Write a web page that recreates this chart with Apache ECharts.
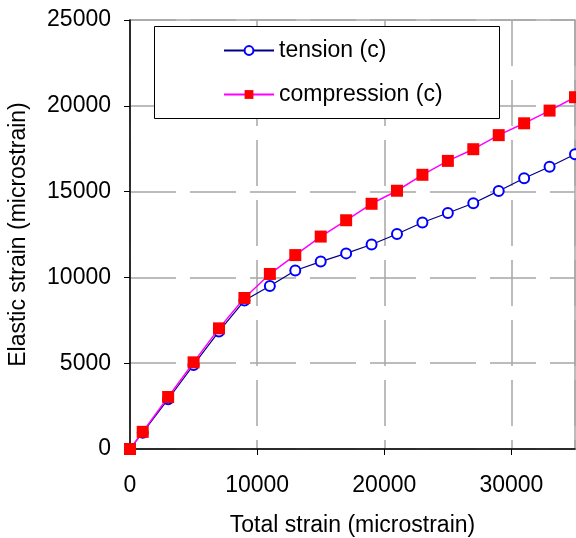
<!DOCTYPE html>
<html>
<head>
<meta charset="utf-8">
<script src="https://cdn.jsdelivr.net/npm/echarts@6/dist/echarts.min.js"></script>
<style>
  html, body { margin: 0; padding: 0; background: #fff; }
  #chart { width: 576px; height: 538px; }
</style>
</head>
<body>
<div id="chart"></div>
<script>
  // total strain (x) and elastic strain (y), microstrain
  const totalStrain = [0, 1000, 3000, 5000, 7000, 9000, 11000, 13000, 15000, 17000,
    19000, 21000, 23000, 25000, 27000, 29000, 31000, 33000, 35000]
  const tension = [0, 950, 2900, 4900, 6850, 8650, 9500, 10400, 10920, 11400,
    11920, 12530, 13200, 13750, 14320, 15040, 15780, 16450, 17180]
  const compression = [0, 1000, 3030, 5050, 7030, 8800, 10200, 11300, 12380, 13330,
    14290, 15050, 15980, 16790, 17470, 18290, 18980, 19720, 20500]

  const seriesNames = ['tension (c)', 'compression (c)']

  const font = 'Liberation Sans, Arial, sans-serif'
  const fontSize = 23
  const gridDash = [46, 14]

  const chart = echarts.init(document.getElementById('chart'))

  const option = {
    animation: false,
    backgroundColor: '#fff',
    textStyle: { fontFamily: font, color: '#000' },
    grid: {
      left: 130, top: 20, right: 1, bottom: 89,
      outerBoundsMode: 'none',
      containLabel: false,
      show: true, borderColor: '#a6a6a6', borderWidth: 1.5
    },
    // legend box
    graphic: [{
      type: 'rect',
      left: 154, top: 26,
      shape: { width: 345, height: 92 },
      style: { fill: '#fff', stroke: '#000', lineWidth: 1 },
      z: 10
    }],
    legend: {
      data: seriesNames,
      orient: 'vertical',
      left: 223, top: 39,
      padding: 0,
      itemWidth: 50, itemHeight: 11,
      itemGap: 21,
      z: 20,
      textStyle: { fontSize: fontSize, fontFamily: font, color: '#000' }
    },
    xAxis: {
      type: 'value',
      min: 0, max: 35000, interval: 10000,
      name: 'Total strain (microstrain)',
      nameLocation: 'middle',
      nameGap: 65,
      nameTextStyle: { fontSize: fontSize, fontFamily: font, color: '#000' },
      axisLine: { onZero: false, lineStyle: { color: '#000', width: 1.5 } },
      axisTick: { show: true, length: 6, lineStyle: { color: '#000' } },
      axisLabel: {
        fontSize: fontSize, margin: 25, color: '#000', showMaxLabel: false,
        formatter: v => String(v)
      },
      splitLine: { show: true, lineStyle: { color: '#a6a6a6', width: 1.5, type: gridDash } }
    },
    yAxis: {
      type: 'value',
      min: 0, max: 25000, interval: 5000,
      name: 'Elastic strain (microstrain)',
      nameLocation: 'middle',
      nameGap: 100,
      nameTextStyle: { fontSize: fontSize, fontFamily: font, color: '#000' },
      axisLine: { show: true, lineStyle: { color: '#000', width: 1.5 } },
      axisTick: { show: true, length: 6, lineStyle: { color: '#000' } },
      axisLabel: { fontSize: fontSize, margin: 19, color: '#000', formatter: v => String(v) },
      splitLine: { show: true, lineStyle: { color: '#a6a6a6', width: 1.5, type: gridDash } }
    },
    series: [
      {
        name: seriesNames[0],
        type: 'line',
        data: totalStrain.map((x, i) => [x, tension[i]]),
        symbol: 'emptyCircle',
        symbolSize: 10,
        clip: false,
        itemStyle: { color: '#0000ff', borderWidth: 1.2 },
        lineStyle: { color: '#000080', width: 1.2 },
        z: 3
      },
      {
        name: seriesNames[1],
        type: 'line',
        data: totalStrain.map((x, i) => [x, compression[i]]),
        symbol: 'rect',
        symbolSize: 12,
        clip: false,
        itemStyle: { color: '#ff0000' },
        lineStyle: { color: '#ff00ff', width: 1.5 },
        z: 4
      }
    ]
  }

  chart.setOption(option)

  window.addEventListener('resize', () => {
    chart.resize()
  })
</script>
</body>
</html>
